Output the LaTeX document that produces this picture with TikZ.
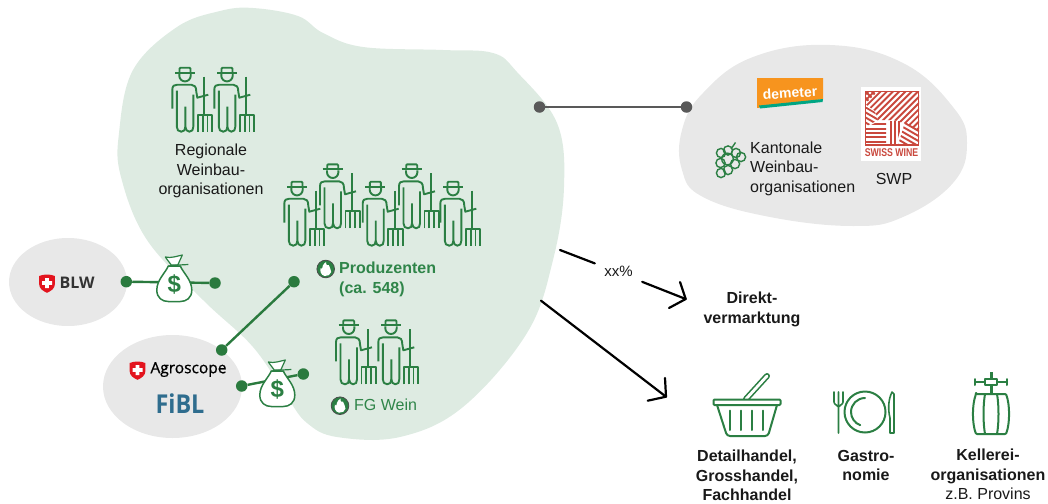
\documentclass[tikz,border=0pt]{standalone}
\usepackage{fontspec}
\usetikzlibrary{shapes.geometric}
\setmainfont{Liberation Sans}
\newfontfamily\opensans{Open Sans}
\newfontfamily\opensansm[FakeBold=0.9]{Open Sans}
\definecolor{blobgreen}{HTML}{DEEBE2}
\definecolor{blobgrey}{HTML}{E8E8E8}
\definecolor{icongreen}{HTML}{2B7F43}
\definecolor{dotgreen}{HTML}{2A7A3E}
\definecolor{txtgreen}{HTML}{2F8549}
\definecolor{lineGrey}{HTML}{595959}
\definecolor{swred}{HTML}{C9483D}
\definecolor{fiblblue}{HTML}{2F6D8E}
\definecolor{chred}{HTML}{E3141E}
\definecolor{demorange}{HTML}{F7941E}
\definecolor{demteal}{HTML}{00A583}
\tikzset{
  lbl/.style={font=\fontsize{16}{19.4}\selectfont,align=center,text=black!90,inner sep=0pt},
  lblb/.style={font=\fontsize{16}{19.4}\selectfont\bfseries,align=center,text=black!90,inner sep=0pt},
  gdot/.style={circle,fill=dotgreen,inner sep=0pt,minimum size=11.5pt},
  gydot/.style={circle,fill=lineGrey,inner sep=0pt,minimum size=11.5pt},
  gline/.style={draw=dotgreen,line width=2.4pt},
  arrowline/.style={draw=black,line width=2.2pt,line cap=round,line join=round},
  icon/.style={draw=icongreen,line width=2pt,line cap=round,line join=round},
  farmer/.pic={
    \begin{scope}[draw=icongreen,line width=1.9pt,line join=round]
    \draw (2.7,6) -- (22.7,6);
    \draw[rounded corners=1pt] (7.2,6) -- (7.2,1) -- (18.2,1) -- (18.2,6);
    \draw (7,7) -- (7,9) arc[start angle=180,end angle=0,radius=5.7] -- (18.4,7);
    \draw (0,42) -- (0,23) .. controls (0,19) and (2,18) .. (5,18) -- (19,18) .. controls (22,18) and (24,20) .. (24,25) -- (25,31) -- (36,28);
    \draw (4.5,24) -- (4.5,60) .. controls (4.5,63) and (6,65) .. (9,65) .. controls (12,65) and (13,63) .. (13,60) -- (13,40);
    \draw (13,60) .. controls (13,63) and (15,65) .. (17,65) .. controls (20,65) and (21,63) .. (21,60) -- (21,28);
    \draw (32,10) -- (32,48);
    \draw (25.5,65) -- (25.5,48) -- (40,48) -- (40,65);
    \draw (30.3,65) -- (30.3,48) (35.2,65) -- (35.2,48);
    \end{scope}
  },
  moneybag/.pic={
    \draw[draw=icongreen,fill=white,line width=1.5pt,line join=round]
      (-6,-14) .. controls (-9,-7) and (-17.5,0) .. (-17.5,10) .. controls (-17.5,18) and (-12,21.5) .. (-6,21.5)
      -- (6,21.5) .. controls (12,21.5) and (17.5,18) .. (17.5,10) .. controls (17.5,0) and (9,-7) .. (6,-14) -- cycle;
    \draw[draw=icongreen,fill=white,line width=1.2pt,line join=round]
      (-3,-15) -- (-9,-23) .. controls (-3,-21.5) and (3,-24) .. (8,-25) -- (3.5,-15) -- cycle;
    \draw[draw=icongreen,line width=1.2pt] (-6,-14) -- (5,-15) -- (14,-15.5);
    \node[inner sep=0pt,text=icongreen,font=\fontsize{24}{24}\selectfont\bfseries] at (0,4.5) {\$};
  },
  chshield/.pic={
    \fill[chred] (-7.8,-7.5) .. controls (-3,-9.5) and (3,-9.5) .. (7.8,-7.5) -- (7.8,1) .. controls (7.8,5) and (4,7.5) .. (0,9.3) .. controls (-4,7.5) and (-7.8,5) .. (-7.8,1) -- cycle;
    \fill[white] (-1.9,-5.5) rectangle (1.9,4.5) (-5,-2.4) rectangle (5,1.4);
  },
  bioflame/.pic={
    \draw[fill=icongreen,draw=black!70,line width=0.8pt] (0,0) circle (8.8);
    \fill[white] (-1,7) .. controls (-5,6) and (-6,2) .. (-5,-1) .. controls (-4,1) and (-3.5,0) .. (-3,-3) .. controls (-2.5,-5) and (-1,-6) .. (0.5,-7) .. controls (0,-4) and (2,-3) .. (3,-4) .. controls (3,-2) and (6,0) .. (5.5,3) .. controls (5,6) and (2,7) .. (-1,7) -- cycle;
  }
}
\newcommand{\swstripe}[3]{%
  \begin{scope}
    \clip #1;
    \begin{scope}[shift={#2},rotate=#3]
      \foreach \k in {-12,...,12} \draw[swred,line width=1.9pt] (-60,\k*4.4) -- (60,\k*4.4);
    \end{scope}
  \end{scope}}
\begin{document}
\begin{tikzpicture}[x=1pt,y=-1pt]
\useasboundingbox (0,0) rectangle (1048,503);
% blobs
\fill[blobgreen] plot[smooth cycle,tension=0.62] coordinates {
 (253,8) (298,16) (323,33) (363,47) (443,50) (493,53) (517,72) (557,123) (564,187) (553,260) (527,333) (463,407) (400,437) (337,437) (307,423) (287,397) (253,347) (203,300) (147,240) (121,177) (119,133) (133,70) (177,27) (220,11)};
\fill[blobgrey] plot[smooth cycle,tension=0.7] coordinates {
 (830,45) (903,63) (953,107) (967,143) (953,183) (903,217) (853,226) (770,217) (703,197) (682,170) (682,130) (703,93) (753,57)};
\node[ellipse,fill=blobgrey,minimum width=118pt,minimum height=88pt,inner sep=0pt] (blw) at (68,282) {};
\node[ellipse,fill=blobgrey,minimum width=139pt,minimum height=103pt,inner sep=0pt] (agro) at (172.5,386.5) {};
% connectors
\node[gdot] (d1) at (126.3,281.7) {};
\node[gdot] (d2) at (215,283) {};
\node[gdot] (d3) at (294,281.7) {};
\node[gdot] (d4) at (221.7,350) {};
\node[gdot] (d5) at (241.7,386) {};
\node[gdot] (d6) at (303.3,374) {};
\node[gydot] (g1) at (539.5,107) {};
\node[gydot] (g2) at (686.5,107) {};
\draw[gline] (d1) -- (d2);
\draw[gline] (d3) -- (d4);
\draw[gline] (d5) -- (d6);
\draw[draw=lineGrey,line width=2.4pt] (g1) -- (g2);
\pic at (174.3,280) {moneybag};
\pic at (277.3,385) {moneybag};
% farmers
\foreach \fx/\fy in {172.3/66.7,214.3/66.7,284.3/180.7,320/163.3,362.7/180.7,399/163.3,440.3/180.7,336/319.3,378.3/319.3}
  \pic at (\fx,\fy) {farmer};
% labels
\node[lbl] (reg) at (211,171) {Regionale\\Weinbau-\\organisationen};
\node[font=\fontsize{16}{19.4}\selectfont\bfseries,text=txtgreen,align=left,anchor=west,inner sep=0pt] (prod) at (339,279.5) {Produzenten\\(ca. 548)};
\node[font=\fontsize{16}{19.4}\selectfont,text=txtgreen,anchor=west,inner sep=0pt] (fg) at (354,405) {FG Wein};
\pic at (325.7,269) {bioflame};
\pic at (340,405.7) {bioflame};
% BLW, Agroscope, FiBL
\pic at (47,283.5) {chshield};
\node[font=\opensans\bfseries\fontsize{16}{16}\selectfont,text=black!80,inner sep=0pt] (blwt) at (77,282.5) {BLW};
\pic at (137.5,370.5) {chshield};
\node[font=\opensansm\fontsize{15.5}{16}\selectfont,text=black,inner sep=0pt] (agt) at (188.5,369.5) {Agroscope};
\node[font=\opensans\bfseries\fontsize{26}{26}\selectfont,text=fiblblue,inner sep=0pt,xscale=0.9] (fibl) at (180,404) {FiBL};
% right blob
\fill[demorange] (757,78) -- (823,78) -- (823,99) -- (757,108) -- cycle;
\fill[demteal] (759,105.5) -- (823,99) -- (822.5,102) -- (760,108.5) -- cycle;
\node[rotate=4,text=white,inner sep=0pt,font=\fontsize{14}{14}\selectfont\bfseries] (dem) at (790,93) {demeter};
\fill[white] (861,87) rectangle (921,161);
\swstripe{(865,91) -- (919,91) -- (919,132) -- (910,125) -- (893,120) -- (878,120) -- (875,111) -- (865,104) -- cycle}{(892,105)}{45}
\swstripe{(865,91) -- (878,91) -- (865,104) -- cycle}{(870,96)}{-45}
\swstripe{(865,106) -- (875,112) -- (878,120) -- (865,127) -- cycle}{(870,115)}{-30}
\swstripe{(865,128) -- (879,121) -- (886,121) -- (886,145) -- (865,145) -- cycle}{(875,133)}{0}
\swstripe{(888,121) -- (903,121) -- (896,145) -- (888,145) -- cycle}{(895,133)}{90}
\swstripe{(905,122) -- (919,130) -- (919,145) -- (898,145) -- cycle}{(908,135)}{-30}
\draw[swred,line width=1.4pt] (865.5,91.5) rectangle (918.5,145);
\node[text=swred,inner sep=0pt,font=\fontsize{9}{10}\selectfont\bfseries,yscale=1.25,xscale=0.97] (sw) at (891.5,153) {SWISS WINE};
\node[lbl,align=left,anchor=west] (kant) at (750,168.5) {Kantonale\\Weinbau-\\organisationen};
\node[lbl] (swp) at (894,179) {SWP};
\begin{scope}[draw=icongreen,line width=1.4pt]
\draw (731,149) -- (735.5,142.5);
\foreach \gx/\gy in {721/153,728/150.5,736/153,741/157,720.5/163,735/164,728/170,721/173}
  \draw (\gx,\gy) circle (4.6);
\draw (727.5,159) circle (5.8);
\end{scope}
% arrows
\coordinate (a1) at (560,250);
\coordinate (a2) at (685.7,299);
\coordinate (h1) at (680,282);
\coordinate (h2) at (669,308);
\node[font=\fontsize{15}{15}\selectfont,text=black!90,inner sep=0pt,minimum width=47pt,minimum height=20pt] (xx) at (618.5,272.5) {\raisebox{2.5pt}{xx\%}};
\draw[arrowline] (a1) -- (xx);
\draw[arrowline] (xx) -- (a2);
\draw[arrowline] (h1) -- (a2) -- (h2);
\coordinate (b1) at (541,300.7);
\coordinate (b2) at (666,396.7);
\coordinate (k1) at (665,378);
\coordinate (k2) at (647.7,400.7);
\draw[arrowline] (b1) -- (b2);
\draw[arrowline] (k1) -- (b2) -- (k2);
\node[lblb] (dv) at (752,309.5) {Direkt-\\vermarktung};
% basket
\draw[draw=icongreen,line width=6pt,line cap=round] (746,399) -- (767,376);
\draw[draw=white,line width=2.8pt,line cap=round] (746,399) -- (767,376);
\draw[icon,fill=white,rounded corners=1pt] (713.5,399.5) rectangle (780.5,405);
\draw[icon,rounded corners=3pt] (717,405) -- (727,436) -- (768,436) -- (777,405);
\foreach \sx in {730,741,752,763} \draw[icon] (\sx,410.5) -- (\sx,430);
% cutlery
\draw[icon] (865,412) circle (20.5);
\draw[icon] (865,398) arc[start angle=270,end angle=110,radius=14];
\draw[icon,line width=1.6pt] (834,392) -- (834,402) .. controls (834,405) and (838,405) .. (838.5,407) -- (838.5,433) (838.5,392) -- (838.5,405) (843,392) -- (843,402) .. controls (843,405) and (839,405) .. (838.5,407);
\draw[icon,line width=1.6pt] (892,392) .. controls (888,400) and (888,410) .. (890,418) -- (890,433) -- (894,433) -- (894,394) -- cycle;
% barrel
\draw[icon,line width=3pt,line cap=butt] (991,372) -- (991,394);
\draw[icon] (975,379) -- (975,385) (975,382) -- (1007,382) (1007,379) -- (1007,385);
\draw[icon,fill=white] (985,379) rectangle (997,385);
\draw[icon,rounded corners=1pt] (976,394) -- (1006,394) .. controls (1010,405) and (1010,423) .. (1006,434) -- (976,434) .. controls (972,423) and (972,405) .. (976,394) -- cycle;
\draw[icon] (985,394) .. controls (983,405) and (983,423) .. (985,434);
\draw[icon] (997,394) .. controls (999,405) and (999,423) .. (997,434);
% bottom labels
\node[lblb] (det) at (747,475.5) {Detailhandel,\\Grosshandel,\\Fachhandel};
\node[lblb] (gas) at (866,465.5) {Gastro-\\nomie};
\node[lblb,anchor=north] (kel) at (988,449) {Kellerei-\\organisationen\\\mdseries z.B. Provins};
\end{tikzpicture}
\end{document}
